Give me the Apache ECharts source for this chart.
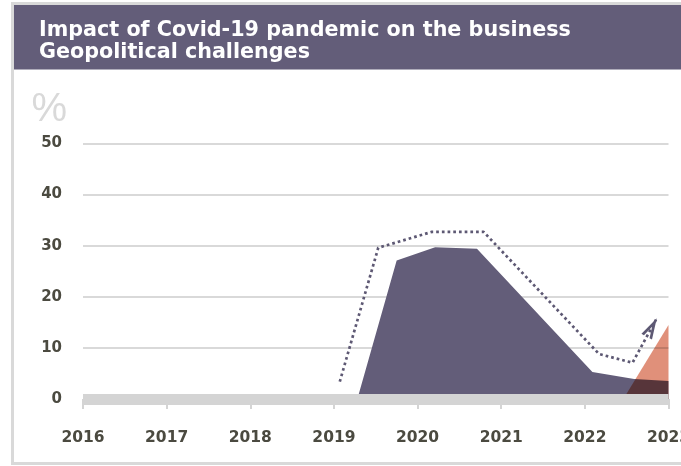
<!DOCTYPE html>
<html>
<head>
<meta charset="utf-8">
<script src="https://cdn.jsdelivr.net/npm/echarts@6/dist/echarts.min.js"></script>
<style>
  html, body { margin: 0; padding: 0; background: #ffffff; }
  #c { width: 681px; height: 466px; }
</style>
</head>
<body>
<div id="c"></div>
<script>
// ---- data ----
const titleLines = ['Impact of Covid-19 pandemic on the business', 'Geopolitical challenges'];
const unitLabel = '%';
const xTickLabels = ['2016', '2017', '2018', '2019', '2020', '2021', '2022', '2023'];
const yTickLabels = ['0', '10', '20', '30', '40', '50'];

// dark purple area (impact of Covid-19)
const covidYears  = [2019.28, 2019.75, 2020.21, 2020.71, 2022.09, 2022.59, 2023.0];
const covidValues = [0, 27.1, 29.7, 29.4, 5.3, 3.9, 3.5];

// salmon area (geopolitical challenges)
const geoYears  = [2022.46, 2023.0];
const geoValues = [0, 14.5];

// dotted trend line with arrow
const trendYears  = [2019.07, 2019.53, 2020.17, 2020.79, 2022.17, 2022.57, 2022.86];
const trendValues = [3.4, 29.6, 32.7, 32.7, 8.8, 7.1, 15.8];

// ---- chart ----
const textColor = '#4b4a40';
const fontFam = 'DejaVu Sans';
const pairs = (xs, ys) => xs.map((x, i) => [x, ys[i]]);

const arrowPath = 'path://M6,0 L12,20 L9.2,20 L6,9.3 L2.8,20 L0,20 Z';

const chart = echarts.init(document.getElementById('c'), null, { renderer: 'canvas' });

const option = {
  animation: false,
  backgroundColor: '#ffffff',
  graphic: [
    { type: 'rect', z: 0, shape: { x: 12.5, y: 3.5, width: 720, height: 460 },
      style: { fill: 'none', stroke: '#d9d9d9', lineWidth: 3 }, silent: true },
    { type: 'rect', z: 1, shape: { x: 14, y: 5, width: 667, height: 64.5 },
      style: { fill: '#635d79' }, silent: true }
  ],
  title: {
    text: titleLines.join('\n'),
    left: 34, top: 14, z: 10,
    textStyle: { color: '#ffffff', fontFamily: fontFam, fontWeight: 'bold', fontSize: 20.7, lineHeight: 22.5 }
  },
  grid: { left: 83, right: 12.5, top: 143.5, bottom: 67, outerBoundsMode: 'none', containLabel: false },
  xAxis: {
    type: 'value', min: 2016, max: 2023, interval: 1, z: 5,
    axisLine: { show: true, lineStyle: { color: '#d4d4d4', width: 11, cap: 'butt' } },
    axisTick: { show: true, length: 10, lineStyle: { color: '#d4d4d4', width: 2 } },
    splitLine: { show: false },
    axisLabel: {
      margin: 31, color: textColor, fontFamily: fontFam, fontWeight: 'bold', fontSize: 15.5,
      formatter: v => xTickLabels[Math.round(v - 2016)]
    }
  },
  yAxis: {
    type: 'value', min: 0, max: 50, interval: 10,
    name: unitLabel, nameLocation: 'end', nameGap: 14,
    nameTextStyle: { color: '#d9d9d9', fontFamily: 'Liberation Sans', fontSize: 40, align: 'right', padding: [0, 16, 0, 0] },
    axisLine: { show: false }, axisTick: { show: false },
    splitLine: { show: true, lineStyle: { color: '#d9d9d9', width: 2 } },
    axisLabel: {
      margin: 21, color: textColor, fontFamily: fontFam, fontWeight: 'bold', fontSize: 15,
      formatter: v => yTickLabels[Math.round(v / 10)]
    }
  },
  series: [
    {
      name: 'Impact of Covid-19 pandemic on the business', type: 'line', z: 2,
      data: pairs(covidYears, covidValues), symbol: 'none', silent: true,
      lineStyle: { width: 0 }, areaStyle: { color: '#635d79', opacity: 1 }
    },
    {
      name: 'Geopolitical challenges', type: 'line', z: 3,
      data: pairs(geoYears, geoValues), symbol: 'none', silent: true,
      blendMode: 'multiply',
      lineStyle: { width: 0 }, areaStyle: { color: '#e0907a', opacity: 1 }
    },
    {
      name: 'Trend', type: 'line', z: 4, silent: true,
      data: pairs(trendYears, trendValues), symbol: 'none', showSymbol: true,
      lineStyle: { color: '#5d5873', width: 2.7, type: [2.7, 3], cap: 'butt' }
    }
  ]
};
chart.setOption(option);

// arrowhead on the last trend point, oriented along the last segment
const n = trendYears.length;
const p1 = chart.convertToPixel({ gridIndex: 0 }, [trendYears[n - 2], trendValues[n - 2]]);
const p2 = chart.convertToPixel({ gridIndex: 0 }, [trendYears[n - 1], trendValues[n - 1]]);
const ang = Math.atan2(p2[0] - p1[0], p1[1] - p2[1]);
const arrowW = 12, arrowH = 21;
const half = arrowH / 2;
const trendData = pairs(trendYears, trendValues).map((v, i) => i < n - 1 ? v : {
  value: v,
  symbol: arrowPath,
  symbolSize: [arrowW, arrowH],
  symbolKeepAspect: false,
  symbolRotate: -ang * 180 / Math.PI,
  symbolOffset: [-Math.sin(ang) * half, Math.cos(ang) * half],
  itemStyle: { color: '#5d5873', borderWidth: 0, opacity: 1 }
});
chart.setOption({ series: [{}, {}, { data: trendData }] });
</script>
</body>
</html>
